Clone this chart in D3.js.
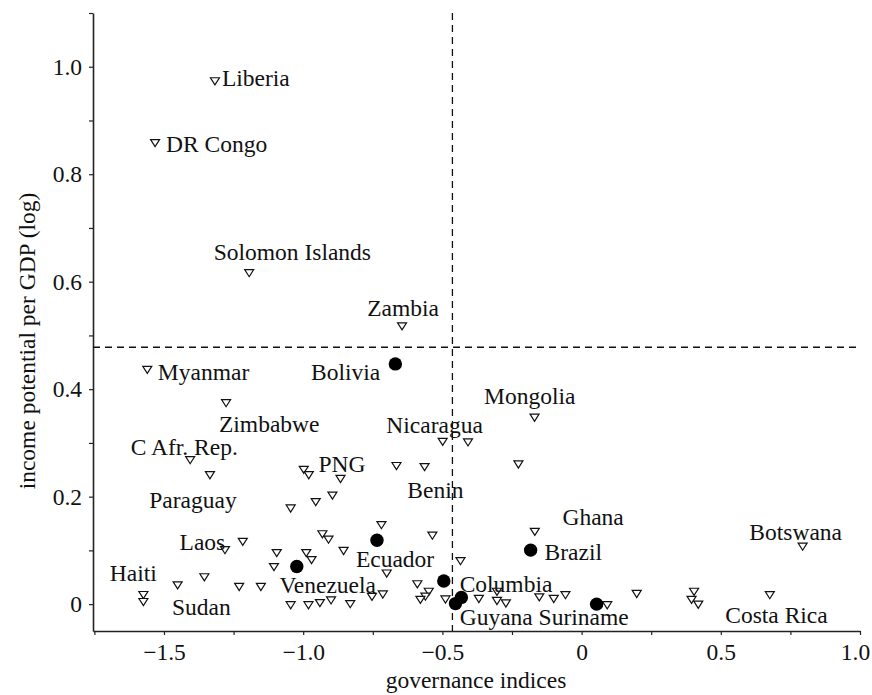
<!DOCTYPE html>
<html>
<head>
<meta charset="utf-8">
<script src="https://cdn.jsdelivr.net/npm/d3@7"></script>
<style>
  html, body { margin: 0; padding: 0; background: #fff; }
  svg text { font-family: "Liberation Serif", "Times New Roman", serif; fill: #111; }
</style>
</head>
<body>
<svg id="chart" width="872" height="695"></svg>
<script>
// ---- data ----
// countries (open triangles)
const triGov = [-1.317, -1.532, -1.194, -0.645, -1.560, -1.277, -0.169, -0.499, -0.408, -0.665,
  -0.564, -0.227, -1.406, -1.335, -0.998, -0.980, -0.866, -0.895, -0.955, -1.045,
  -1.281, -1.217, -1.095, -1.105, -1.574, -1.574, -1.451, -1.355, -1.230, -1.152,
  -1.045, -0.981, -0.940, -0.900, -0.831, -0.753, -0.714, -0.989, -0.970, -0.931,
  -0.909, -0.855, -0.719, -0.700, -0.536, -0.435, -0.590, -0.549, -0.561, -0.579,
  -0.489, -0.168, -0.369, -0.304, -0.304, -0.272, -0.152, -0.100, -0.058, 0.092,
  0.198, 0.404, 0.395, 0.419, 0.676, 0.794];
const triIncome = [0.973, 0.858, 0.616, 0.517, 0.436, 0.374, 0.347, 0.302, 0.301, 0.257,
  0.255, 0.260, 0.268, 0.240, 0.250, 0.240, 0.233, 0.202, 0.190, 0.178,
  0.1005, 0.116, 0.095, 0.069, 0.017, 0.004, 0.035, 0.050, 0.032, 0.032,
  -0.002, -0.002, 0.002, 0.007, 0.000, 0.0136, 0.018, 0.095, 0.082, 0.130,
  0.120, 0.099, 0.147, 0.057, 0.1275, 0.080, 0.037, 0.023, 0.014, 0.008,
  0.0087, 0.1346, 0.0097, 0.023, 0.006, 0.0013, 0.0127, 0.0097, 0.0168, -0.002,
  0.019, 0.023, 0.008, -0.001, 0.0168, 0.107];
// South American countries (filled dots)
const dotGov = [-0.669, -0.735, -1.023, -0.495, -0.453, -0.432, -0.183, 0.054];
const dotIncome = [0.447, 0.119, 0.070, 0.043, 0.001, 0.0125, 0.1005, 0.000];

// labels placed in data coordinates
const labelText = ["Liberia", "DR Congo", "Solomon Islands", "Zambia", "Myanmar", "Bolivia",
  "Zimbabwe", "C Afr. Rep.", "PNG", "Paraguay", "Nicaragua", "Mongolia", "Benin", "Laos",
  "Haiti", "Sudan", "Venezuela", "Ecuador", "Columbia", "Brazil", "Ghana",
  "Guyana Suriname", "Botswana", "Costa Rica"];
const labelGov = [-1.292, -1.493, -1.039, -0.641, -1.522, -0.723,
  -1.122, -1.427, -0.945, -1.396, -0.528, -0.186, -0.525, -1.362,
  -1.610, -1.366, -0.912, -0.670, -0.438, -0.133, 0.0414,
  -0.438, 0.769, 0.700];
const labelIncome = [0.980, 0.856, 0.656, 0.552, 0.432, 0.432,
  0.335, 0.293, 0.262, 0.1936, 0.333, 0.387, 0.212, 0.116,
  0.058, -0.005, 0.0354, 0.085, 0.0385, 0.0973, 0.1625,
  -0.0236, 0.1346, -0.0205];
const labelAnchor = ["start", "start", "middle", "middle", "start", "end",
  "middle", "middle", "start", "middle", "middle", "middle", "middle", "middle",
  "middle", "middle", "middle", "middle", "start", "start", "middle",
  "start", "middle", "middle"];

// thresholds (dashed lines)
const govThreshold = -0.464;
const incomeThreshold = 0.478;

// ticks
const xMajor = [-1.5, -1.0, -0.5, 0, 0.5, 1.0];
const xMajorLabels = ["\u22121.5", "\u22121.0", "\u22120.5", "0", "0.5", "1.0"];
const xMinor = [-1.75, -1.25, -0.75, -0.25, 0.25, 0.75];
const yMajor = [0, 0.2, 0.4, 0.6, 0.8, 1.0];
const yMajorLabels = ["0", "0.2", "0.4", "0.6", "0.8", "1.0"];
const yMinor = [0.1, 0.3, 0.5, 0.7, 0.9, 1.1];

const xTitle = "governance indices";
const yTitle = "income potential per GDP (log)";

// ---- drawing ----
const svg = d3.select("#chart");
const FS = 23.5;
const x = d3.scaleLinear().domain([-1.755, 1.0]).range([93, 860]);
const y = d3.scaleLinear().domain([-0.05, 1.1]).range([631, 13]);

const axisColor = "#222";

// bottom axis
const gx = svg.append("g").attr("transform", `translate(0,${y.range()[0]})`);
gx.call(d3.axisBottom(x).tickValues(xMajor).tickSize(4).tickSizeOuter(0).tickPadding(8)
  .tickFormat((d, i) => xMajorLabels[i]));
gx.selectAll(".tick text").filter(d => d === 1.0).attr("dx", -5);
const gxm = svg.append("g").attr("transform", `translate(0,${y.range()[0]})`);
gxm.call(d3.axisBottom(x).tickValues(xMinor).tickSize(4).tickSizeOuter(0).tickFormat(""));
gxm.select(".domain").remove();

// left axis
const gy = svg.append("g").attr("transform", `translate(${x.range()[0]},0)`);
gy.call(d3.axisLeft(y).tickValues(yMajor).tickSize(4).tickSizeOuter(0).tickPadding(7)
  .tickFormat((d, i) => yMajorLabels[i]));
const gym = svg.append("g").attr("transform", `translate(${x.range()[0]},0)`);
gym.call(d3.axisLeft(y).tickValues(yMinor).tickSize(4).tickSizeOuter(0).tickFormat(""));
gym.select(".domain").remove();

svg.selectAll(".domain").attr("stroke", axisColor).attr("stroke-width", 1.6);
svg.selectAll(".tick line").attr("stroke", axisColor).attr("stroke-width", 1.2);
svg.selectAll(".tick text").attr("font-size", FS)
  .attr("font-family", "Liberation Serif, serif").attr("fill", "#111");

// dashed threshold lines
svg.append("line")
  .attr("x1", x(govThreshold)).attr("x2", x(govThreshold))
  .attr("y1", y.range()[1]).attr("y2", y.range()[0])
  .attr("stroke", "#111").attr("stroke-width", 1.3).attr("stroke-dasharray", "7,5");
svg.append("line")
  .attr("x1", x.range()[0]).attr("x2", x.range()[1])
  .attr("y1", y(incomeThreshold)).attr("y2", y(incomeThreshold))
  .attr("stroke", "#111").attr("stroke-width", 1.3).attr("stroke-dasharray", "7,5");

// triangles
const tri = d3.range(triGov.length);
svg.append("g").selectAll("path").data(tri).join("path")
  .attr("transform", i => `translate(${x(triGov[i])},${y(triIncome[i])})`)
  .attr("d", "M-4.5,-3.5L4.5,-3.5L0,3.6Z")
  .attr("fill", "#fff").attr("stroke", "#111").attr("stroke-width", 1.2)
  .attr("stroke-linejoin", "miter");

// dots
const dots = d3.range(dotGov.length);
svg.append("g").selectAll("circle").data(dots).join("circle")
  .attr("cx", i => x(dotGov[i])).attr("cy", i => y(dotIncome[i]))
  .attr("r", 6.7).attr("fill", "#000");

// labels
const labs = d3.range(labelText.length);
svg.append("g").selectAll("text").data(labs).join("text")
  .attr("x", i => x(labelGov[i])).attr("y", i => y(labelIncome[i]))
  .attr("dy", "0.35em")
  .attr("text-anchor", i => labelAnchor[i])
  .attr("font-size", FS)
  .text(i => labelText[i]);

// axis titles
svg.append("text")
  .attr("x", 476).attr("y", 688)
  .attr("text-anchor", "middle").attr("font-size", FS)
  .text(xTitle);
svg.append("text")
  .attr("transform", "translate(35,341) rotate(-90)")
  .attr("text-anchor", "middle").attr("font-size", FS)
  .text(yTitle);
</script>
</body>
</html>
